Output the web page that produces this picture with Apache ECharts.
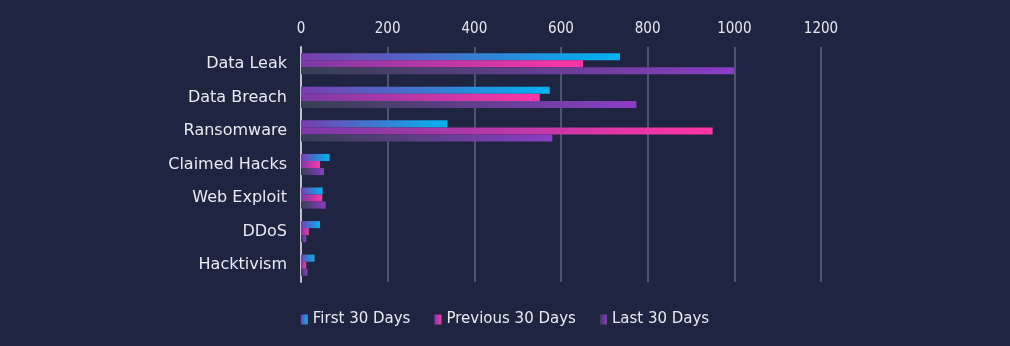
<!DOCTYPE html>
<html><head><meta charset="utf-8">
<script src="https://cdn.jsdelivr.net/npm/echarts@6/dist/echarts.min.js"></script>
<style>html,body{margin:0;padding:0;background:#1f2541;}#c{width:1010px;height:346px;}</style>
</head><body><div id="c"></div>
<script>
const categories = ["Data Leak","Data Breach","Ransomware","Claimed Hacks","Web Exploit","DDoS","Hacktivism"];
const firstDays = [736, 574, 338, 66, 50, 44, 31];
const previousDays = [651, 551, 950, 44, 49, 18, 12];
const lastDays = [1000, 774, 580, 53, 57, 12, 15];
const tickValues = [0, 200, 400, 600, 800, 1000, 1200];

function grad(a, b) {
  return new echarts.graphic.LinearGradient(0, 0, 1, 0, [{offset: 0, color: a}, {offset: 1, color: b}]);
}
const font = '"DejaVu Sans", sans-serif';
const narrow = '"Liberation Sans Narrow", "DejaVu Sans Condensed", sans-serif';
const chart = echarts.init(document.getElementById('c'));
chart.setOption({
  backgroundColor: '#1f2541',
  animation: false,
  textStyle: {fontFamily: font},
  grid: {left: 301, right: 189, top: 47, bottom: 64},
  xAxis: {
    type: 'value', position: 'top', min: tickValues[0], max: tickValues[tickValues.length-1], interval: 200,
    axisLabel: {color: '#e6e8f0', fontSize: 15, fontFamily: narrow, margin: 10, formatter: v => String(v)},
    axisLine: {show: false}, axisTick: {show: false},
    splitLine: {show: true, lineStyle: {color: '#4d5470', width: 2}}
  },
  yAxis: {
    type: 'category', data: categories, inverse: true,
    axisLabel: {color: '#e8eaf2', fontSize: 16, fontFamily: font, margin: 14, padding: [6, 0, 0, 0]},
    axisLine: {show: true, lineStyle: {color: '#bfc0c8', width: 2}},
    axisTick: {show: false}
  },
  legend: {
    bottom: 14, left: 'center', icon: 'rect', itemWidth: 7, itemHeight: 10, itemGap: 24,
    textStyle: {color: '#e8eaf2', fontSize: 15, fontFamily: font},
    data: ['First 30 Days', 'Previous 30 Days', 'Last 30 Days']
  },
  series: [
    {name: 'First 30 Days', type: 'bar', data: firstDays, barGap: '0%', barCategoryGap: '37%',
     itemStyle: {color: grad('#7a3db0', '#00b4f2')}},
    {name: 'Previous 30 Days', type: 'bar', data: previousDays,
     itemStyle: {color: grad('#7a3aa6', '#ff35a6')}},
    {name: 'Last 30 Days', type: 'bar', data: lastDays,
     itemStyle: {color: grad('#363f52', '#8b3dc6')}}
  ]
});
</script></body></html>
